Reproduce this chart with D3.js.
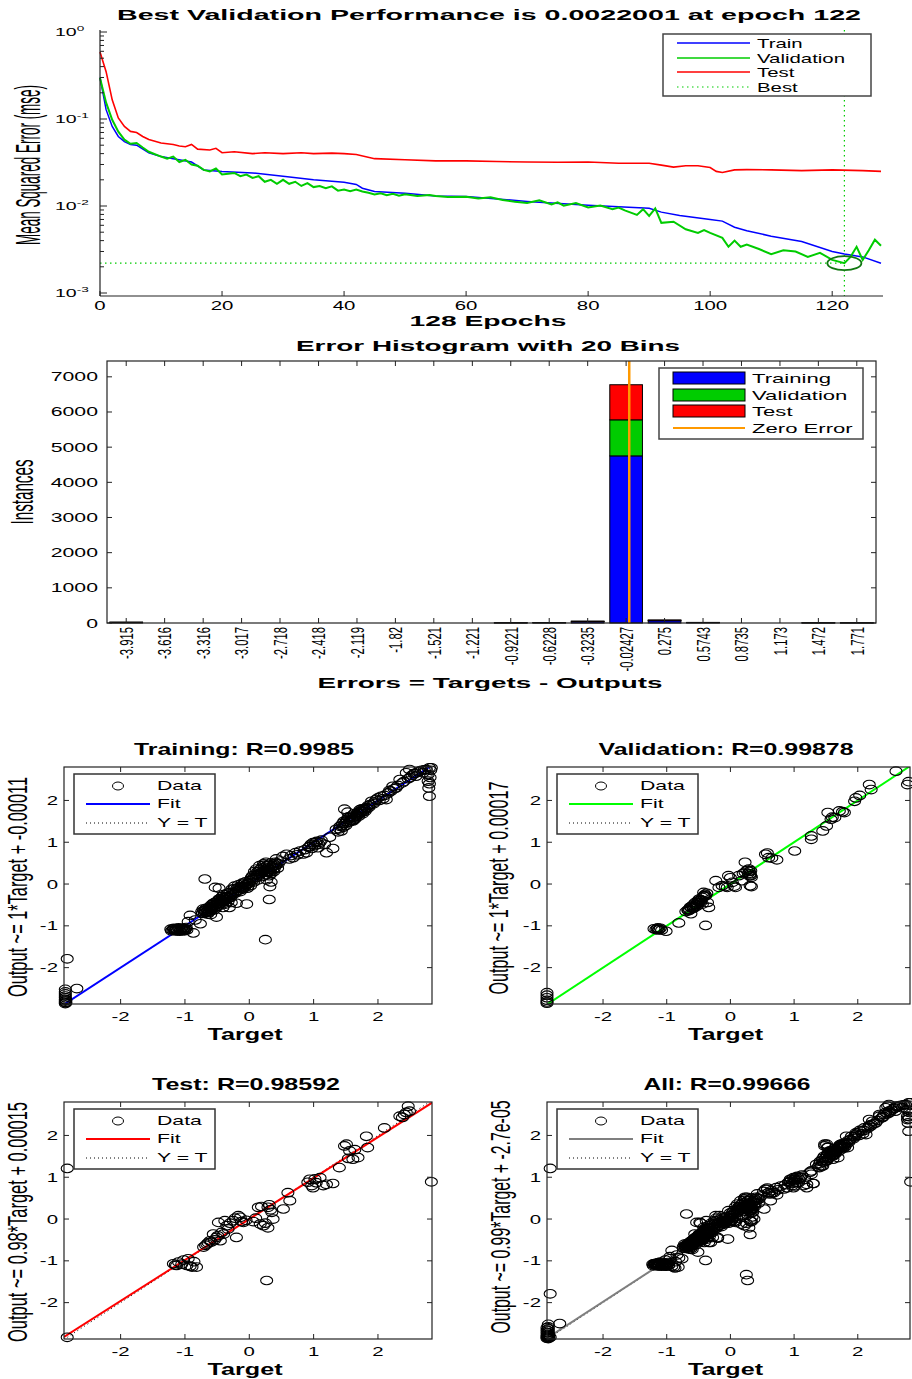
<!DOCTYPE html>
<html><head><meta charset="utf-8">
<script src="https://cdn.jsdelivr.net/npm/d3@7"></script>
<style>body{margin:0;background:#fff}svg{display:block}text{font-family:"Liberation Sans",Arial,sans-serif;fill:#000}</style>
</head><body><svg id="c" width="912" height="1379"></svg>
<script>
// ---------------- DATA ----------------
const perfTitle = "Best Validation Performance is 0.0022001 at epoch 122";
const bestEpoch = 122, bestPerf = 0.0022001, totalEpochs = 128;
const perfTickEpochs = [0,20,40,60,80,100,120];
const perfTickExps = [0,-1,-2,-3];
const trainCurve = [[0,0.30],[1,0.128],[2,0.082],[3,0.063],[4,0.055],[5,0.051],[6,0.050],[8,0.041],[10,0.037],[12,0.035],[15,0.032],[17,0.026],[20,0.025],[25,0.024],[30,0.022],[35,0.020],[40,0.0187],[42,0.0177],[43,0.016],[45,0.0147],[50,0.014],[55,0.013],[60,0.0129],[70,0.0113],[80,0.0102],[90,0.0094],[92,0.0085],[95,0.0078],[100,0.0070],[102,0.0067],[104,0.0057],[106,0.0052],[110,0.0045],[115,0.0039],[120,0.0030],[122,0.0028],[125,0.0026],[128,0.0022]];
const validationCurve = [[0,0.297],[1,0.154],[2,0.098],[3,0.0716],[4,0.0579],[5,0.052],[6,0.053],[7,0.047],[8,0.042],[10,0.037],[11,0.035],[12,0.037],[13,0.032],[14,0.034],[15,0.030],[16,0.029],[17,0.026],[18,0.025],[19,0.027],[20,0.023],[21,0.0235],[22,0.024],[23,0.022],[24,0.023],[25,0.021],[26,0.022],[27,0.019],[28,0.020],[29,0.018],[30,0.020],[31,0.018],[32,0.019],[33,0.017],[34,0.0183],[35,0.0165],[36,0.017],[37,0.016],[38,0.0168],[39,0.015],[40,0.0155],[41,0.0148],[42,0.0155],[43,0.0147],[44,0.0142],[45,0.0136],[46,0.014],[47,0.0133],[48,0.0138],[49,0.0131],[50,0.0136],[52,0.013],[54,0.0134],[55,0.013],[57,0.0127],[60,0.0128],[62,0.0122],[64,0.0126],[66,0.0117],[68,0.0112],[70,0.0108],[72,0.0116],[74,0.0104],[75,0.011],[76,0.0101],[78,0.0108],[80,0.0096],[82,0.0101],[84,0.0092],[85,0.0096],[86,0.0089],[88,0.0079],[89,0.0092],[90,0.0077],[91,0.0094],[92,0.0064],[94,0.0066],[96,0.0054],[98,0.0049],[99,0.0053],[100,0.0049],[102,0.0043],[103,0.0034],[104,0.004],[105,0.0034],[106,0.0036],[108,0.0032],[110,0.0028],[112,0.0031],[114,0.003],[116,0.0026],[118,0.0029],[120,0.0024],[122,0.0022],[123,0.0026],[124,0.0034],[125,0.0024],[126,0.0031],[127,0.0041],[128,0.0035]];
const testCurve = [[0,0.59],[1,0.35],[2,0.166],[3,0.103],[4,0.082],[5,0.072],[6,0.070],[7,0.063],[8,0.058],[10,0.053],[12,0.051],[13,0.049],[14,0.048],[15,0.051],[16,0.045],[18,0.044],[19,0.046],[20,0.041],[22,0.042],[25,0.040],[27,0.041],[30,0.040],[33,0.041],[35,0.040],[38,0.0405],[40,0.040],[42,0.039],[45,0.035],[50,0.034],[55,0.033],[60,0.033],[65,0.0325],[70,0.032],[75,0.0318],[80,0.032],[85,0.031],[90,0.031],[92,0.0295],[94,0.028],[96,0.029],[98,0.029],[100,0.0277],[101,0.025],[102,0.0243],[104,0.026],[106,0.0262],[110,0.026],[115,0.0255],[120,0.026],[125,0.0255],[128,0.025]];
const perfLegend = ["Train","Validation","Test","Best"];

const histTitle = "Error Histogram with 20 Bins";
const binCenters = [-3.915,-3.616,-3.316,-3.017,-2.718,-2.418,-2.119,-1.82,-1.521,-1.221,-0.9221,-0.6228,-0.3235,-0.02427,0.275,0.5743,0.8735,1.173,1.472,1.771];
const binLabels = ["-3.915","-3.616","-3.316","-3.017","-2.718","-2.418","-2.119","-1.82","-1.521","-1.221","-0.9221","-0.6228","-0.3235","-0.02427","0.275","0.5743","0.8735","1.173","1.472","1.771"];
const histTraining   = [18,0,0,0,0,0,0,0,0,0,5,8,40,4752,65,12,0,0,4,4];
const histValidation = [2,0,0,0,0,0,0,0,0,0,1,2,6,1025,10,2,0,0,1,1];
const histTest       = [2,0,0,0,0,0,0,0,0,0,1,2,8,998,12,3,0,0,1,1];
const histYTicks = [0,1000,2000,3000,4000,5000,6000,7000];
const histLegend = ["Training","Validation","Test","Zero Error"];

const regTitles = ["Training: R=0.9985","Validation: R=0.99878","Test: R=0.98592","All: R=0.99666"];
const regYLabels = ["Output ~= 1*Target + -0.00011","Output ~= 1*Target + 0.00017","Output ~= 0.98*Target + 0.00015","Output ~= 0.99*Target + -2.7e-05"];
const fitSlopes = [1, 1, 0.98, 0.99];
const fitIntercepts = [-0.00011, 0.00017, 0.00015, -0.000027];
const regTicks = [-2,-1,0,1,2];

const trainingPoints = [
[-2.86,-2.52],[-2.86,-2.58],[-2.86,-2.63],[-2.86,-2.68],[-2.86,-2.72],[-2.86,-2.76],[-2.86,-2.8],[-2.86,-2.83],[-2.86,-2.86],[-2.85,-2.84],[-2.85,-2.78],[-2.68,-2.5],[-2.83,-1.79],
[-1.22,-1.08],[-1.19,-1.1],[-1.17,-1.06],[-1.15,-1.12],[-1.13,-1.09],[-1.11,-1.1],[-1.1,-1.05],[-1.08,-1.13],[-1.06,-1.08],[-1.04,-1.11],[-1.02,-1.06],[-1.0,-1.1],[-0.98,-1.04],[-0.87,-1.17],[-0.92,-0.75],[-0.76,-0.95],[-0.84,-0.86],[-0.95,-0.9],
[-1.21,-1.12],[-1.18,-1.07],[-1.16,-1.1],[-1.14,-1.07],[-1.12,-1.12],[-1.09,-1.08],[-1.07,-1.1],[-1.05,-1.06],[-1.03,-1.09],[-1.01,-1.12],[-0.99,-1.07],[-0.97,-1.1],
[-0.74,-0.66],[-0.72,-0.6],[-0.7,-0.7],[-0.69,-0.63],[-0.67,-0.58],[-0.66,-0.66],[-0.65,-0.72],[-0.63,-0.6],[-0.62,-0.55],[-0.6,-0.64],[-0.59,-0.5],[-0.58,-0.58],[-0.56,-0.52],[-0.55,-0.62],[-0.54,-0.45],[-0.52,-0.55],[-0.51,-0.79],[-0.5,-0.48],[-0.49,-0.4],[-0.47,-0.5],[-0.46,-0.42],[-0.45,-0.35],[-0.44,-0.46],[-0.42,-0.3],[-0.41,-0.4],[-0.4,-0.25],[-0.38,-0.36],[-0.37,-0.48],[-0.35,-0.3],[-0.34,-0.22],[-0.33,-0.42],[-0.31,-0.56],[-0.3,-0.28],[-0.28,-0.44],[-0.69,0.12],[-0.53,-0.08],[-0.47,-0.1],[-0.6,-0.73],[-0.41,-0.56],[-0.2,-0.46],[-0.04,-0.48],
[-0.73,-0.7],[-0.71,-0.64],[-0.68,-0.68],[-0.66,-0.6],[-0.64,-0.65],[-0.63,-0.68],[-0.61,-0.58],[-0.59,-0.62],[-0.57,-0.55],[-0.56,-0.46],[-0.53,-0.5],[-0.52,-0.43],[-0.5,-0.55],[-0.48,-0.45],[-0.47,-0.36],[-0.45,-0.42],[-0.43,-0.38],[-0.42,-0.48],[-0.4,-0.33],[-0.39,-0.42],[-0.37,-0.3],[-0.36,-0.38],[-0.34,-0.3],[-0.32,-0.34],[-0.3,-0.2],[-0.29,-0.32],[-0.26,-0.25],[-0.24,-0.12],[-0.22,-0.22],[-0.18,-0.15],[-0.16,-0.08],[-0.14,-0.18],[-0.12,-0.1],[-0.09,0.0],[-0.07,-0.08],[-0.04,0.0],[-0.02,-0.05],[0.0,0.02],
[-0.27,-0.12],[-0.25,-0.2],[-0.23,-0.05],[-0.21,-0.18],[-0.19,-0.1],[-0.17,-0.02],[-0.15,-0.14],[-0.13,-0.06],[-0.11,0.02],[-0.1,-0.12],[-0.08,-0.05],[-0.06,0.05],[-0.05,-0.02],[-0.03,-0.1],[-0.01,0.03],[0.01,0.08],[0.02,-0.04],[0.04,0.12],[0.05,0.2],[0.07,0.05],[0.08,0.3],[0.1,0.15],[0.11,0.36],[0.12,0.22],[0.14,0.1],[0.15,0.3],[0.16,0.44],[0.18,0.25],[0.19,0.38],[0.2,0.18],[0.22,0.48],[0.23,0.32],[0.24,0.4],[0.26,0.52],[0.27,0.28],[0.28,0.45],[0.3,0.35],[0.31,0.2],[0.32,0.28],[0.32,-0.06],[0.33,0.5],[0.35,0.4],[0.37,0.44],[0.38,0.3],[0.4,0.52],[0.42,0.6],[0.44,0.38],[0.31,-0.37],[0.25,-1.33],[0.48,0.55],[0.52,0.66],
[0.03,0.15],[0.06,0.1],[0.09,0.22],[0.13,0.3],[0.15,0.2],[0.17,0.35],[0.19,0.28],[0.21,0.3],[0.23,0.45],[0.25,0.35],[0.26,0.22],[0.28,0.38],[0.29,0.3],[0.31,0.45],[0.33,0.35],[0.34,0.25],[0.36,0.33],[0.38,0.48],[0.39,0.38],[0.41,0.45],[0.43,0.5],[0.45,0.48],[0.34,0.05],[0.27,0.1],
[0.58,0.71],[0.62,0.6],[0.68,0.63],[0.72,0.75],[0.79,0.79],[0.84,0.72],[0.89,0.75],[0.92,0.88],[0.96,0.95],[0.99,0.99],[1.02,0.92],[1.05,1.02],[1.07,0.87],[1.1,1.0],[1.17,0.95],[1.2,0.75],[1.3,0.85],[1.25,1.12],
[0.86,0.82],[0.94,0.9],[0.97,0.85],[1.0,0.95],[1.03,1.0],[1.08,0.95],[1.12,1.05],[0.75,0.7],[0.65,0.68],
[1.35,1.31],[1.38,1.25],[1.41,1.38],[1.43,1.27],[1.45,1.45],[1.47,1.5],[1.48,1.79],[1.5,1.4],[1.52,1.55],[1.53,1.72],[1.55,1.48],[1.56,1.59],[1.58,1.62],[1.6,1.52],[1.61,1.51],[1.63,1.68],[1.65,1.58],[1.66,1.63],[1.68,1.7],[1.7,1.62],[1.72,1.78],[1.74,1.75],[1.76,1.68],[1.78,1.8],[1.8,1.74],[1.82,1.83],[1.85,1.88],[1.88,1.9],
[1.4,1.32],[1.44,1.4],[1.46,1.36],[1.49,1.45],[1.51,1.5],[1.54,1.6],[1.57,1.52],[1.59,1.58],[1.62,1.6],[1.64,1.55],[1.67,1.66],[1.69,1.72],[1.71,1.68],[1.73,1.7],[1.75,1.8],[1.77,1.74],[1.79,1.78],[1.83,1.8],[1.86,1.84],
[1.9,1.98],[1.93,1.92],[1.97,2.02],[2.0,2.06],[2.05,2.1],[2.08,2.04],[2.13,2.02],[2.16,2.18],[2.2,2.22],[2.23,2.34],[2.28,2.3],[2.34,2.5],[2.38,2.42],[2.44,2.66],[2.47,2.52],[2.49,2.74],[2.53,2.6],[2.56,2.64],[2.59,2.58],[2.62,2.68],[2.65,2.7],[2.7,2.66],[2.72,2.73],[2.75,2.74],[2.78,2.62],[2.78,2.46],[2.79,2.3],[2.8,2.1],[2.8,2.78],[2.82,2.72],[2.83,2.78],[2.81,2.55],[2.8,2.4],
[1.95,1.96],[2.02,2.0],[2.1,2.12],[2.18,2.24],[2.25,2.28],[2.31,2.36],[2.4,2.45],[2.5,2.55],[2.58,2.65],[2.68,2.72]];
const validationPoints = [
[-2.88,-2.6],[-2.88,-2.66],[-2.88,-2.72],[-2.88,-2.78],[-2.88,-2.82],[-2.88,-2.85],
[-1.2,-1.07],[-1.17,-1.09],[-1.14,-1.05],[-1.12,-1.08],[-1.1,-1.06],[-1.08,-1.1],[-1.15,-1.08],[-1.13,-1.1],[-1.01,-1.13],[-0.81,-0.93],[-0.39,-0.99],
[-0.7,-0.66],[-0.67,-0.62],[-0.65,-0.6],[-0.63,-0.55],[-0.62,-0.71],[-0.6,-0.52],[-0.58,-0.58],[-0.57,-0.48],[-0.55,-0.44],[-0.53,-0.53],[-0.51,-0.4],[-0.49,-0.36],[-0.47,-0.45],[-0.44,-0.48],[-0.42,-0.2],[-0.41,-0.3],[-0.39,-0.28],[-0.37,-0.22],[-0.36,-0.44],[-0.34,-0.56],
[-0.66,-0.64],[-0.64,-0.62],[-0.61,-0.58],[-0.59,-0.55],[-0.56,-0.53],[-0.54,-0.5],[-0.52,-0.46],[-0.5,-0.43],[-0.48,-0.4],[-0.46,-0.38],[-0.44,-0.32],[-0.42,-0.28],[-0.4,-0.25],
[-0.23,0.08],[-0.18,-0.08],[-0.13,-0.04],[-0.08,-0.06],[-0.05,-0.08],[-0.03,0.2],[0.0,0.15],[0.03,0.04],[0.06,-0.05],[0.08,-0.08],[0.13,0.2],[0.18,0.08],[0.2,0.25],[0.23,0.52],[0.23,0.28],[0.26,0.33],[0.29,0.36],[0.3,0.3],[0.31,0.24],[0.32,0.2],[0.33,0.16],[0.31,-0.04],[0.33,-0.06],[0.28,0.25],[0.3,0.2],[0.32,0.32],
[0.55,0.71],[0.58,0.74],[0.6,0.63],[0.65,0.62],[0.73,0.58],[1.01,0.79],
[1.27,1.15],[1.27,1.07],[1.45,1.27],[1.51,1.39],[1.53,1.71],[1.58,1.55],[1.6,1.6],[1.64,1.59],[1.71,1.75],[1.76,1.73],[1.79,1.71],[1.95,1.98],[1.97,2.06],[2.03,2.12],[2.18,2.38],[2.21,2.26],[2.6,2.7],[2.78,2.38],[2.8,2.45]];
const testPoints = [
[-2.83,-2.83],[-2.83,1.21],[2.83,0.89],[0.27,-1.47],
[-1.18,-1.07],[-1.15,-1.1],[-1.13,-1.11],[-1.1,-1.03],[-1.05,-1.08],[-1.02,-0.98],[-0.97,-1.11],[-0.95,-0.95],[-0.92,-1.13],[-0.89,-1.15],[-0.82,-1.15],[-0.86,-1.02],
[-0.71,-0.67],[-0.68,-0.63],[-0.66,-0.6],[-0.64,-0.57],[-0.61,-0.52],[-0.59,-0.55],[-0.56,-0.36],[-0.54,-0.5],[-0.51,-0.44],[-0.49,-0.4],[-0.48,-0.08],[-0.45,-0.52],[-0.43,-0.32],[-0.4,-0.36],[-0.38,-0.04],[-0.35,-0.16],[-0.33,-0.24],[-0.3,-0.1],[-0.25,-0.04],[-0.2,-0.44],[-0.22,0.02],[-0.17,0.08],[-0.14,0.04],[-0.12,-0.06],[-0.09,-0.08],[-0.05,-0.03],[0.06,-0.06],[0.1,0.02],[0.14,0.28],[0.17,-0.12],[0.19,0.3],[0.22,-0.16],[0.25,-0.1],[0.29,-0.21],[0.29,0.28],[0.31,0.34],[0.33,0.22],[0.35,0.16],[0.37,0.0],[0.53,0.24],[0.6,0.63],[0.63,0.44],
[0.91,0.88],[0.94,0.95],[0.97,0.8],[0.99,0.75],[1.02,0.96],[1.04,0.87],[1.1,0.99],[1.15,0.8],[1.2,0.83],[1.3,0.85],[1.4,1.23],[1.48,1.75],[1.51,1.79],[1.54,1.45],[1.56,1.63],[1.61,1.43],[1.64,1.66],[1.69,1.47],[1.82,1.98],[1.84,1.71],[2.1,2.18],[2.34,2.46],[2.38,2.43],[2.41,2.5],[2.44,2.55],[2.47,2.7],[2.49,2.58]];

// ---------------- DRAWING ----------------
const SX = 1.7;      // horizontal glyph stretch of the figure
const SXR = 2.1;     // stretch used for rotated axis titles (thick, condensed look)
const svg = d3.select('#c');
svg.append('rect').attr('width',912).attr('height',1379).attr('fill','#fff');

function label(g, x, y, s, o) {
  o = o || {};
  const sx = o.sx || SX;
  let tr = `translate(${x},${y}) scale(${sx},1)`;
  if (o.rot) tr += ` rotate(${o.rot})`;
  const t = g.append('text').attr('transform', tr)
    .attr('font-size', o.size || 12)
    .attr('font-weight', o.bold ? 'bold' : 'normal')
    .attr('text-anchor', o.anchor || 'middle')
    .text(s);
  if (o.dy) t.attr('dy', o.dy);
  if (o.len) t.attr('textLength', o.rot ? o.len : o.len / sx).attr('lengthAdjust', 'spacingAndGlyphs');
  return t;
}
function line(g, x1, y1, x2, y2, color, w, dash) {
  const l = g.append('line').attr('x1',x1).attr('y1',y1).attr('x2',x2).attr('y2',y2)
    .attr('stroke', color).attr('stroke-width', w || 1);
  if (dash) l.attr('stroke-dasharray', dash);
  return l;
}

// ===== Performance plot =====
(function(){
  const g = svg.append('g');
  const x = d3.scaleLinear().domain([0, totalEpochs]).range([100, 881]);
  const y = d3.scaleLog().domain([1e-3, 1]).range([293, 32]);
  const axisBottom = 296, axisTop = 30;
  const cTrain = '#0000ff', cVal = '#00cc00', cTest = '#ff0000';

  label(g, 489, 20, perfTitle, {size:14, bold:true, len:744});

  line(g, x(0), y(bestPerf), x(bestEpoch), y(bestPerf), cVal, 1.2, '1.5,3.5');
  line(g, x(bestEpoch), axisTop, x(bestEpoch), axisBottom, cVal, 1.2, '1.5,3.5');

  const ln = d3.line().x(d => x(d[0])).y(d => y(d[1]));
  g.append('path').datum(trainCurve).attr('d', ln).attr('fill','none').attr('stroke', cTrain).attr('stroke-width', 1.5);
  g.append('path').datum(validationCurve).attr('d', ln).attr('fill','none').attr('stroke', cVal).attr('stroke-width', 2);
  g.append('path').datum(testCurve).attr('d', ln).attr('fill','none').attr('stroke', cTest).attr('stroke-width', 1.6);

  g.append('ellipse').attr('cx', x(bestEpoch)).attr('cy', y(bestPerf)).attr('rx', 17).attr('ry', 7)
    .attr('fill','none').attr('stroke','#117711').attr('stroke-width', 1.8);

  line(g, 100, axisTop, 100, axisBottom, '#222', 1.2);
  line(g, 100, axisBottom, 883, axisBottom, '#222', 1.2);
  perfTickEpochs.forEach(e => {
    line(g, x(e), axisBottom, x(e), axisBottom - 5, '#222', 1);
    label(g, x(e), 310, String(e), {size:12});
  });
  perfTickExps.forEach(ex => {
    const v = Math.pow(10, ex);
    line(g, 100, y(v), 107, y(v), '#222', 1);
    if (ex > -3) for (let k = 2; k <= 9; k++) {
      const mv = k * Math.pow(10, ex - 1);
      line(g, 100, y(mv), 104, y(mv), '#222', 1);
    }
    const t = g.append('text').attr('transform', `translate(55,${y(v)+4}) scale(${SX},1)`)
      .attr('font-size', 11.5).attr('text-anchor','start');
    t.append('tspan').text('10');
    t.append('tspan').attr('font-size', 8).attr('dy', -5).text(String(ex));
  });
  label(g, 488, 326, "128 Epochs", {size:14, bold:true, len:157});
  label(g, 27, 165, "Mean Squared Error (mse)", {size:17, rot:-90, len:160, dy:'0.35em', sx:SXR});

  g.append('rect').attr('x',663).attr('y',34).attr('width',208).attr('height',62)
    .attr('fill','#fff').attr('stroke','#444').attr('stroke-width',1.5);
  const rows = [43,58,72,87];
  const cols = [cTrain, cVal, cTest, cVal];
  perfLegend.forEach((s,i) => {
    line(g, 677, rows[i], 750, rows[i], cols[i], i===3 ? 1.2 : 1.5, i===3 ? '1.5,3.5' : null);
    label(g, 757, rows[i] + 5, s, {size:12, anchor:'start'});
  });
})();

// ===== Histogram =====
(function(){
  const g = svg.append('g');
  const bw = binCenters[1] - binCenters[0];
  const x = d3.scaleLinear().domain([binCenters[0] - 0.5*bw, binCenters[19] + 0.5*bw]).range([107, 876]);
  const y = d3.scaleLinear().domain([0, 7450]).range([623, 361]);
  const cols = ['#0000ff', '#00cc00', '#ff0000'];
  const series = [histTraining, histValidation, histTest];
  const barW = bw * 0.85;

  label(g, 488, 351, histTitle, {size:15, bold:true, len:384});

  binCenters.forEach((c, i) => {
    let base = 0;
    series.forEach((s, k) => {
      const v = s[i];
      if (v <= 0) return;
      g.append('rect').attr('x', x(c - barW/2)).attr('width', x(c + barW/2) - x(c - barW/2))
        .attr('y', y(base + v)).attr('height', y(base) - y(base + v))
        .attr('fill', cols[k]).attr('stroke', '#000').attr('stroke-width', 1);
      base += v;
    });
  });
  line(g, x(0), 361, x(0), 623, '#ff9900', 2.5);

  g.append('rect').attr('x',107).attr('y',361).attr('width',769).attr('height',262)
    .attr('fill','none').attr('stroke','#222').attr('stroke-width',1.2);
  histYTicks.forEach(v => {
    line(g, 107, y(v), 112, y(v), '#222', 1);
    line(g, 876, y(v), 871, y(v), '#222', 1);
    label(g, 98, y(v) + 4.5, String(v), {size:12.5, anchor:'end'});
  });
  binCenters.forEach((c, i) => {
    line(g, x(c), 623, x(c), 618, '#222', 1);
    line(g, x(c), 361, x(c), 366, '#222', 1);
    label(g, x(c), 627, binLabels[i], {size:11.3, rot:-90, anchor:'end', dy:'0.35em'});
  });
  label(g, 490, 688, "Errors = Targets - Outputs", {size:15, bold:true, len:345});
  label(g, 22, 492, "Instances", {size:15, rot:-90, len:65, dy:'0.35em', sx:SXR});

  g.append('rect').attr('x',659).attr('y',368).attr('width',204).attr('height',71)
    .attr('fill','#fff').attr('stroke','#444').attr('stroke-width',1.5);
  const rows = [378,395,411,428];
  histLegend.forEach((s, i) => {
    if (i < 3) g.append('rect').attr('x',673).attr('y',rows[i]-6).attr('width',72).attr('height',12)
      .attr('fill', cols[i]).attr('stroke','#000').attr('stroke-width',1);
    else line(g, 673, rows[i], 745, rows[i], '#ff9900', 2);
    label(g, 752, rows[i] + 5, s, {size:13, anchor:'start'});
  });
})();

// ===== Regression plots =====
const panels = [
  {box:[64,432,767,1004], xd:[-2.88,2.84], pts:[trainingPoints], color:'#0000ff', ylx:17, yly:887, yllen:220, tlen:220, tc:244},
  {box:[547,910,767,1004], xd:[-2.88,2.82], pts:[validationPoints], color:'#00ff00', ylx:498, yly:888, yllen:213, tlen:255, tc:726},
  {box:[64,432,1102,1339], xd:[-2.88,2.84], pts:[testPoints], color:'#ff0000', ylx:17, yly:1222, yllen:240, tlen:188, tc:246},
  {box:[547,910,1102,1339], xd:[-2.88,2.82], pts:[trainingPoints, validationPoints, testPoints], color:'#7f7f7f', ylx:500, yly:1217, yllen:233, tlen:167, tc:727}
];
const yDomain = [-2.87, 2.80];
panels.forEach((p, i) => {
  const g = svg.append('g');
  const [x0, x1, y0, y1] = p.box;
  const x = d3.scaleLinear().domain(p.xd).range([x0, x1]);
  const y = d3.scaleLinear().domain(yDomain).range([y1, y0]);
  const clipId = 'clip' + i;
  svg.append('clipPath').attr('id', clipId).append('rect').attr('x',x0).attr('y',y0).attr('width',x1-x0).attr('height',y1-y0);

  label(g, p.tc, y0 - 12, regTitles[i], {size:16, bold:true, len:p.tlen});

  const lg = g.append('g').attr('clip-path', `url(#${clipId})`);
  lg.append('line').attr('x1', x(p.xd[0])).attr('y1', y(p.xd[0])).attr('x2', x(p.xd[1])).attr('y2', y(p.xd[1]))
    .attr('stroke','#000').attr('stroke-width',1).attr('stroke-dasharray','1,3');
  lg.append('line').attr('x1', x(p.xd[0])).attr('y1', y(fitSlopes[i]*p.xd[0] + fitIntercepts[i]))
    .attr('x2', x(p.xd[1])).attr('y2', y(fitSlopes[i]*p.xd[1] + fitIntercepts[i]))
    .attr('stroke', p.color).attr('stroke-width', 2);

  const all = [].concat(...p.pts);
  g.selectAll(null).data(all).enter().append('ellipse')
    .attr('cx', d => x(d[0])).attr('cy', d => y(d[1])).attr('rx', 6).attr('ry', 4.3)
    .attr('fill','none').attr('stroke','#000').attr('stroke-width',1.1);

  g.append('rect').attr('x',x0).attr('y',y0).attr('width',x1-x0).attr('height',y1-y0)
    .attr('fill','none').attr('stroke','#222').attr('stroke-width',1.2);
  regTicks.forEach(v => {
    line(g, x(v), y1, x(v), y1-5, '#222', 1);
    line(g, x(v), y0, x(v), y0+5, '#222', 1);
    line(g, x0, y(v), x0+5, y(v), '#222', 1);
    line(g, x1, y(v), x1-5, y(v), '#222', 1);
    label(g, x(v), y1 + 17, String(v), {size:12});
    label(g, x0 - 6, y(v) + 4.5, String(v), {size:12, anchor:'end'});
  });
  label(g, (x0+x1)/2 - 3, y1 + 36, "Target", {size:16, bold:true, len:75});
  label(g, p.ylx, p.yly, regYLabels[i], {size:13, rot:-90, len:p.yllen, dy:'0.35em', sx:SXR});

  const lx = x0 + 10, ly = y0 + 7;
  g.append('rect').attr('x',lx).attr('y',ly).attr('width',141).attr('height',60)
    .attr('fill','#fff').attr('stroke','#333').attr('stroke-width',1.5);
  g.append('ellipse').attr('cx', lx+44).attr('cy', ly+12).attr('rx',5.5).attr('ry',4)
    .attr('fill','none').attr('stroke','#000').attr('stroke-width',1);
  label(g, lx+83, ly+16, "Data", {size:12.5, anchor:'start'});
  line(g, lx+12, ly+30, lx+76, ly+30, p.color, 2);
  label(g, lx+83, ly+34, "Fit", {size:12.5, anchor:'start'});
  line(g, lx+12, ly+49, lx+76, ly+49, '#000', 1, '1,3');
  label(g, lx+83, ly+53, "Y = T", {size:12.5, anchor:'start'});
});
</script></body></html>
